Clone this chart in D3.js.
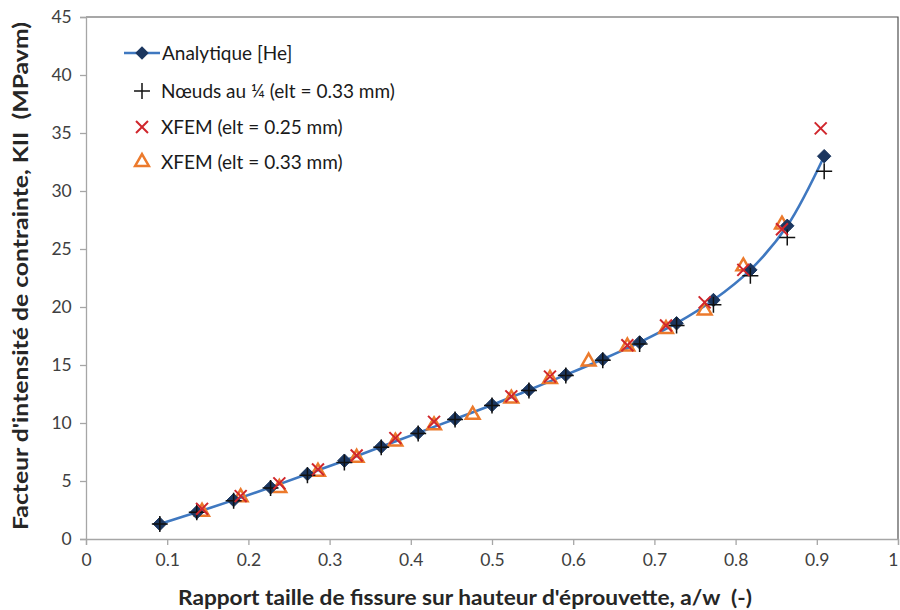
<!DOCTYPE html>
<html><head><meta charset="utf-8">
<script src="https://cdn.jsdelivr.net/npm/d3@7"></script>
<style>
body{margin:0;background:#fff;}
svg{font-family:Lato,"Open Sans",sans-serif;}
</style></head>
<body><svg id="c" width="900" height="610"></svg>
<script>
// ---- data ----
const xAnalytic = [0.0909,0.1364,0.1818,0.2273,0.2727,0.3182,0.3636,0.4091,0.4545,0.5,0.5455,0.5909,0.6364,0.6818,0.7273,0.7727,0.8182,0.8636,0.9091];
const yAnalytic = [1.3,2.3,3.35,4.45,5.6,6.75,7.95,9.15,10.35,11.55,12.85,14.15,15.5,16.95,18.6,20.6,23.2,27.0,33.0];
const yNoeuds   = [1.3,2.3,3.3,4.4,5.5,6.6,7.9,9.1,10.3,11.5,12.8,14.1,15.4,16.8,18.4,20.2,22.7,26.0,31.7];
const xXfem25 = [0.1429,0.1905,0.2381,0.2857,0.3333,0.3810,0.4286,0.5238,0.5714,0.6667,0.7143,0.7619,0.8095,0.8571,0.9048];
const yXfem25 = [2.6,3.7,4.8,6.0,7.2,8.7,10.1,12.3,14.0,16.7,18.4,20.4,23.2,26.7,35.4];
const xXfem33 = [0.1429,0.1905,0.2381,0.2857,0.3333,0.3810,0.4286,0.4762,0.5238,0.5714,0.6190,0.6667,0.7143,0.7619,0.8095,0.8571];
const yXfem33 = [2.35,3.6,4.4,5.8,7.0,8.4,9.8,10.7,12.1,13.8,15.3,16.6,18.1,19.7,23.5,27.1];
const xTicks = [0,0.1,0.2,0.3,0.4,0.5,0.6,0.7,0.8,0.9,1];
const yTicks = [0,5,10,15,20,25,30,35,40,45];
const seriesNames = ["Analytique [He]","Nœuds au ¼ (elt = 0.33 mm)","XFEM (elt = 0.25 mm)","XFEM (elt = 0.33 mm)"];
const xTitle = "Rapport taille de fissure sur hauteur d'éprouvette, a/w  (-)";
const yTitle = "Facteur d'intensité de contrainte, KII  (MPavm)";

// ---- layout ----
const L=86,R=898,T=17,B=539;
const svg=d3.select("#c");
const x=d3.scaleLinear().domain([0,1]).range([L,R]);
const y=d3.scaleLinear().domain([0,45]).range([B,T]);

const colLine="#3f78c0", colDia="#1b365f", colX="#d0262c", colTri="#ec7a2c", axisCol="#a6a6a6", txtCol="#404040";

// plot border (top/right)
svg.append("path").attr("d",`M${L},${T}H${R}V${B}`).attr("fill","none").attr("stroke","#505050").attr("stroke-width",1.2);

// axes
const gx=svg.append("g").attr("transform",`translate(0,${B})`)
  .call(d3.axisBottom(x).tickValues(xTicks).tickSize(6).tickFormat(d=>d===0||d===1?d3.format("d")(d):d3.format(".1f")(d)));
const gy=svg.append("g").attr("transform",`translate(${L},0)`)
  .call(d3.axisLeft(y).tickValues(yTicks).tickSize(6).tickFormat(d3.format("d")));
[gx,gy].forEach(g=>{
  g.select(".domain").attr("stroke",axisCol).attr("stroke-width",1.3);
  g.selectAll(".tick line").attr("stroke",axisCol).attr("stroke-width",1.3);
  g.selectAll(".tick text").attr("fill",txtCol).attr("font-size",17.5).attr("font-family","Lato");
});
gx.selectAll(".tick text").attr("dy","1.05em");
gx.selectAll(".tick text").filter(d=>d===1).attr("text-anchor","end").attr("dx","0");
gy.selectAll(".tick text").attr("dx","-0.3em");

// titles
svg.append("text").attr("x",465).attr("y",605).attr("text-anchor","middle")
  .attr("font-weight","bold").attr("font-size",21).attr("fill","#262626").style("white-space","pre")
  .attr("textLength",574).attr("lengthAdjust","spacingAndGlyphs").text(xTitle);
svg.append("text").attr("transform",`translate(28,276) rotate(-90)`).attr("text-anchor","middle")
  .attr("font-weight","bold").attr("font-size",21).attr("fill","#262626").style("white-space","pre")
  .attr("textLength",508).attr("lengthAdjust","spacingAndGlyphs").text(yTitle);

// analytic line
const line=d3.line().x(d=>x(d[0])).y(d=>y(d[1])).curve(d3.curveCatmullRom.alpha(0.5));
const aData=xAnalytic.map((v,i)=>[v,yAnalytic[i]]);
svg.append("path").datum(aData).attr("d",line).attr("fill","none").attr("stroke",colLine).attr("stroke-width",2.6);

const dia=d3.symbol().type(d3.symbolDiamond2).size(115)();
const tri=d3.symbol().type(d3.symbolTriangle2).size(135)();
const cross=d3.symbol().type(d3.symbolX).size(95)();
const plus=d3.symbol().type(d3.symbolPlus).size(85)();

// XFEM 0.33 triangles
svg.append("g").selectAll("path").data(xXfem33.map((v,i)=>[v,yXfem33[i]])).join("path")
  .attr("d",tri).attr("transform",d=>`translate(${x(d[0])},${y(d[1])})`)
  .attr("fill","none").attr("stroke",colTri).attr("stroke-width",2.5);
// analytic diamonds
svg.append("g").selectAll("path").data(aData).join("path")
  .attr("d",dia).attr("transform",d=>`translate(${x(d[0])},${y(d[1])})`)
  .attr("fill",colDia).attr("stroke",colDia).attr("stroke-width",1);
// Noeuds plus
svg.append("g").selectAll("path").data(xAnalytic.map((v,i)=>[v,yNoeuds[i]])).join("path")
  .attr("d",plus).attr("transform",d=>`translate(${x(d[0])},${y(d[1])})`)
  .attr("fill","none").attr("stroke","#111").attr("stroke-width",1.5);
// XFEM 0.25 crosses
svg.append("g").selectAll("path").data(xXfem25.map((v,i)=>[v,yXfem25[i]])).join("path")
  .attr("d",cross).attr("transform",d=>`translate(${x(d[0])},${y(d[1])})`)
  .attr("fill","none").attr("stroke",colX).attr("stroke-width",2);

// legend
const lg=svg.append("g");
const ly=[53,91,127,162];
lg.append("line").attr("x1",124).attr("x2",160).attr("y1",ly[0]).attr("y2",ly[0]).attr("stroke",colLine).attr("stroke-width",2.6);
lg.append("path").attr("d",dia).attr("transform",`translate(142,${ly[0]})`).attr("fill",colDia);
lg.append("path").attr("d",plus).attr("transform",`translate(142,${ly[1]})`).attr("fill","none").attr("stroke","#111").attr("stroke-width",1.5);
lg.append("path").attr("d",cross).attr("transform",`translate(142,${ly[2]})`).attr("fill","none").attr("stroke",colX).attr("stroke-width",2);
lg.append("path").attr("d",tri).attr("transform",`translate(142,${ly[3]})`).attr("fill","none").attr("stroke",colTri).attr("stroke-width",2.5);
seriesNames.forEach((s,i)=>{
  lg.append("text").attr("x",i===0?162:161).attr("y",ly[i]).attr("dy","0.35em").attr("font-size",19).attr("fill","#1a1a1a").text(s);
});
</script></body></html>
